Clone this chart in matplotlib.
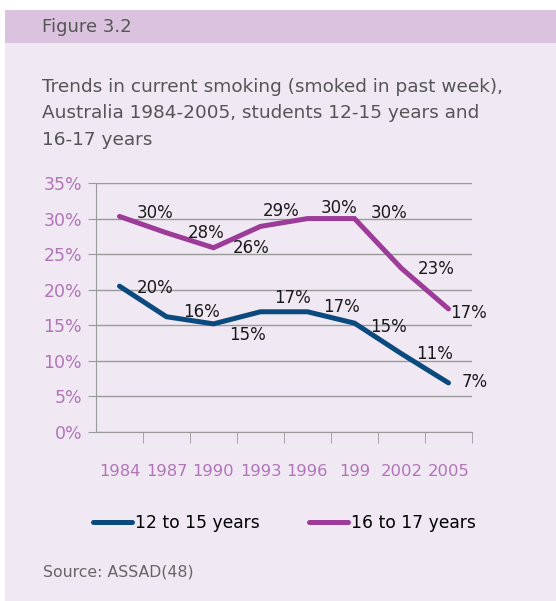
import matplotlib.pyplot as plt
from matplotlib.patches import Rectangle
import numpy as np

years = ["1984", "1987", "1990", "1993", "1996", "199", "2002", "2005"]
young = [20.5, 16.2, 15.2, 16.9, 16.9, 15.3, 11.0, 6.9]
old = [30.3, 28.0, 25.9, 28.9, 30.0, 30.0, 23.0, 17.3]
young_labels = ["20%", "16%", "15%", "17%", "17%", "15%", "11%", "7%"]
old_labels = ["30%", "28%", "26%", "29%", "30%", "30%", "23%", "17%"]
series_names = ["12 to 15 years", "16 to 17 years"]

BLUE = "#0b4a7e"
PURPLE = "#9c3b98"
TICK = "#b274b9"
GRID = "#9a9a9a"

W, H = 556, 601
fig = plt.figure(figsize=(W / 100, H / 100), dpi=100)
fig.patch.set_facecolor("white")

# background panels
fig.patches.append(Rectangle((5 / W, 0), 1, 1 - 43 / H, transform=fig.transFigure,
                             facecolor="#f0e9f4", edgecolor="none", zorder=-2))
fig.patches.append(Rectangle((5 / W, 1 - 43 / H), 1, 33 / H, transform=fig.transFigure,
                             facecolor="#dbc3df", edgecolor="none", zorder=-2))

fig.text(42 / W, 1 - 27 / H, "Figure 3.2", fontsize=13, color="#555555", va="center")
fig.text(42 / W, 1 - 78 / H, "Trends in current smoking (smoked in past week),\n"
         "Australia 1984-2005, students 12-15 years and\n16-17 years",
         fontsize=13.3, color="#555555", va="top", linespacing=1.6)
fig.text(43 / W, 1 - 572 / H, "Source: ASSAD(48)", fontsize=11.3, color="#666666", va="center")

# axes: left 96, right 472, top 183, bottom 432
ax = fig.add_axes([96 / W, 1 - 432 / H, (472 - 96) / W, (432 - 183) / H])
ax.set_facecolor("none")
x = np.arange(len(years))
ax.set_xlim(-0.5, len(years) - 0.5)
ax.set_ylim(0, 35)

ax.plot(x, young, color=BLUE, lw=3.6, solid_capstyle="round", solid_joinstyle="miter")
ax.plot(x, old, color=PURPLE, lw=3.6, solid_capstyle="round", solid_joinstyle="miter")

# label offsets in pixels (dx, dy)
old_off = [(17, 3), (21, 0), (19, 0), (2, 15), (13, 11), (16, 6), (16, -1), (2, -4)]
young_off = [(17, -2), (17, 5), (16, -11), (14, 14), (16, 5), (16, -4), (15, 0), (13, 1)]
for i in range(len(years)):
    ax.annotate(old_labels[i], (x[i], old[i]), xytext=old_off[i], textcoords="offset pixels",
                fontsize=12, color="#1a1a1a", va="center", ha="left")
    ax.annotate(young_labels[i], (x[i], young[i]), xytext=young_off[i], textcoords="offset pixels",
                fontsize=12, color="#1a1a1a", va="center", ha="left")

ax.set_yticks(np.arange(0, 36, 5))
ax.set_yticklabels([f"{v}%" for v in range(0, 36, 5)], color=TICK, fontsize=12.5)
ax.yaxis.grid(True, color=GRID, lw=1)
ax.set_axisbelow(True)
ax.tick_params(axis="y", length=6, color=GRID, pad=4)

ax.set_xticks(x)
ax.set_xticklabels(years, color=TICK, fontsize=11.8)
ax.tick_params(axis="x", length=0, pad=23)
ax.set_xticks(np.arange(0.5, len(years), 1.0), minor=True)
ax.tick_params(axis="x", which="minor", length=8, color=GRID)

for s in ["top", "right"]:
    ax.spines[s].set_visible(False)
ax.spines["left"].set_color(GRID)
ax.spines["bottom"].set_color(GRID)

# legend
leg = fig.legend([plt.Line2D([], [], color=BLUE, lw=3.6, solid_capstyle="round"),
                  plt.Line2D([], [], color=PURPLE, lw=3.6, solid_capstyle="round")],
                 series_names, loc="center left", bbox_to_anchor=(93 / W, 1 - 523 / H),
                 ncol=2, frameon=False, fontsize=12.3, handlelength=2.3, handletextpad=0.15,
                 columnspacing=2.9, borderaxespad=0, borderpad=0)

fig.savefig("out.png", dpi=100, facecolor=fig.get_facecolor())
